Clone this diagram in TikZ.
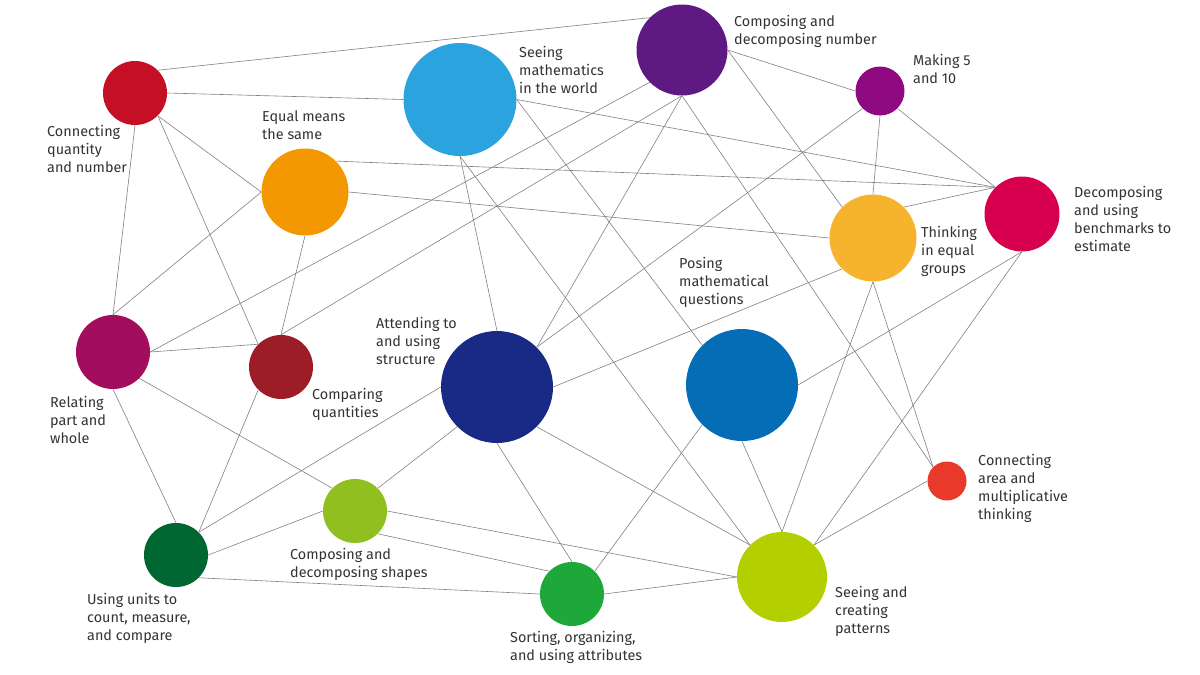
\documentclass[tikz,border=0pt]{standalone}
\usepackage{fontspec}
\setmainfont{Fira Sans}
\usepackage{tikz}
\tikzset{>=latex}
\definecolor{cqred}{HTML}{C40F24}
\definecolor{smblue}{HTML}{2AA3DF}
\definecolor{cdnviolet}{HTML}{5E1A82}
\definecolor{fivepurple}{HTML}{8F0A80}
\definecolor{equalorange}{HTML}{F39800}
\definecolor{dbpink}{HTML}{D6004E}
\definecolor{thinkyellow}{HTML}{F6B32E}
\definecolor{relmagenta}{HTML}{A30D5E}
\definecolor{compred}{HTML}{9C1C28}
\definecolor{structnavy}{HTML}{182986}
\definecolor{poseblue}{HTML}{056CB6}
\definecolor{areared}{HTML}{E8392A}
\definecolor{shapesgreen}{HTML}{8FC01F}
\definecolor{unitsgreen}{HTML}{006632}
\definecolor{sortgreen}{HTML}{1FA83A}
\definecolor{pattlime}{HTML}{B4CF00}
\definecolor{txt}{HTML}{333333}

\begin{document}
\begin{tikzpicture}[x=1pt,y=-1pt,
    spot/.style={circle,inner sep=0pt,minimum size=#1pt},
    tag/.style={anchor=north west,align=left,inner sep=0pt,text=txt,font=\fontsize{14.4}{18}\selectfont},
    link/.style={line width=0.6pt,color=black!50}]
    \useasboundingbox (0,0) rectangle (1200,675);
    \foreach \n/\x/\y/\d/\c in {cq/135/93/64/cqred, sm/460/99.5/113/smblue,
        cdn/682/50/91/cdnviolet, five/880/91/49/fivepurple, equal/305/192/87/equalorange,
        db/1022/214/75/dbpink, think/873/238/87/thinkyellow, rel/113/352/74/relmagenta,
        comp/281/367/64/compred, struct/497/387/112/structnavy, pose/742/385/112/poseblue,
        area/947/481/39/areared, shapes/355/511/64/shapesgreen, units/176/555/64/unitsgreen,
        sort/572/594/64/sortgreen, patt/782/577/90/pattlime} {
      \node[spot=\d,fill=\c] (\n) at (\x,\y) {};
    }
    \foreach \a/\b in {cq.45/cdn.135, cq.0/sm.180, cq.315/equal.180, cq.315/comp.135,
        cq.270/rel.90, equal.180/rel.90, equal.45/db.135, equal.0/think.180,
        equal.270/comp.90, rel.0/comp.135, rel.0/cdn.225, rel.315/shapes.135,
        rel.270/units.90, comp.90/cdn.270, comp.225/units.45, sm.0/db.135,
        sm.0/pose.135, sm.270/struct.90, sm.270/patt.135, cdn.270/struct.45,
        cdn.270/area.135, cdn.0/five.180, cdn.0/think.135, five.225/struct.45,
        five.270/think.90, five.315/db.135, think.45/db.135, think.225/struct.0,
        think.270/patt.90, think.270/area.135, db.270/pose.0, db.270/patt.45,
        pose.225/sort.45, pose.270/patt.90, area.180/patt.45, struct.180/units.45,
        struct.225/shapes.45, struct.270/sort.90, struct.315/patt.135, units.0/shapes.180,
        units.315/sort.180, shapes.0/patt.180, shapes.315/sort.135, sort.0/patt.180} {
      \draw[link] (\a) -- (\b);
    }
    \node[tag] (cqlab) at (47,125) {Connecting\\quantity\\and number};
    \node[tag] (equallab) at (262,110) {Equal means\\the same};
    \node[tag] (smlab) at (519,46) {Seeing\\mathematics\\in the world};
    \node[tag] (cdnlab) at (734,15) {Composing and\\decomposing number};
    \node[tag] (fivelab) at (913,54) {Making 5\\and 10};
    \node[tag] (dblab) at (1074,186) {Decomposing\\and using\\benchmarks to\\estimate};
    \node[tag] (thinklab) at (921,226) {Thinking\\in equal\\groups};
    \node[tag] (poselab) at (679,257) {Posing\\mathematical\\questions};
    \node[tag] (structlab) at (376,317) {Attending to\\and using\\structure};
    \node[tag] (rellab) at (50,396) {Relating\\part and\\whole};
    \node[tag] (complab) at (312,388) {Comparing\\quantities};
    \node[tag] (arealab) at (978,454) {Connecting\\area and\\multiplicative\\thinking};
    \node[tag] (shapeslab) at (290,548) {Composing and\\decomposing shapes};
    \node[tag] (unitslab) at (87,593) {Using units to\\count, measure,\\and compare};
    \node[tag] (sortlab) at (510,631) {Sorting, organizing,\\and using attributes};
    \node[tag] (pattlab) at (835,586) {Seeing and\\creating\\patterns};
\end{tikzpicture}
\end{document}
